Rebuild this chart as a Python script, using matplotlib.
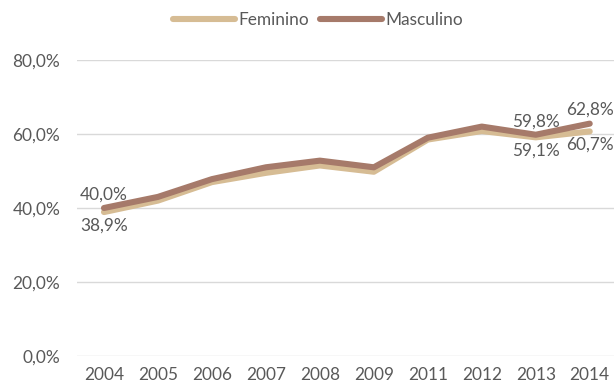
import matplotlib
matplotlib.use("Agg")
import matplotlib.pyplot as plt
from matplotlib.ticker import FuncFormatter

years = ["2004", "2005", "2006", "2007", "2008", "2009", "2011", "2012", "2013", "2014"]
feminino = [38.9, 42.0, 47.0, 49.5, 51.5, 49.8, 58.5, 60.8, 59.1, 60.7]
masculino = [40.0, 43.0, 47.8, 51.0, 52.8, 51.0, 59.0, 62.0, 59.8, 62.8]
y_ticks = [0, 20, 40, 60, 80]

# indices of points carrying a data label
labelled = [0, 8, 9]

col_fem = "#D6BC94"
col_masc = "#A67A6A"
txt = "#595959"
fs = 12.4

plt.rcParams["font.family"] = ["Lato", "DejaVu Sans"]

fig = plt.figure(figsize=(6.14, 3.88), dpi=100)
ax = fig.add_axes([77 / 614, 32 / 388, 537 / 614, 296 / 388])

x = list(range(len(years)))
ax.plot(x, feminino, color=col_fem, lw=4.4, solid_capstyle="round",
        solid_joinstyle="round", label="Feminino", zorder=3)
ax.plot(x, masculino, color=col_masc, lw=4.4, solid_capstyle="round",
        solid_joinstyle="round", label="Masculino", zorder=4)

def pct(v):
    return f"{v:.1f}%".replace(".", ",")

for i in labelled:
    ax.annotate(pct(masculino[i]), (x[i], masculino[i]), xytext=(0, 4),
                textcoords="offset points", ha="center", va="bottom",
                fontsize=fs, color=txt, zorder=5)
    ax.annotate(pct(feminino[i]), (x[i], feminino[i]), xytext=(0, -4),
                textcoords="offset points", ha="center", va="top",
                fontsize=fs, color=txt, zorder=5)

ax.set_xlim(-0.5, len(years) - 0.55)
ax.set_ylim(0, 80)
ax.set_yticks(y_ticks)
ax.yaxis.set_major_formatter(FuncFormatter(lambda v, p: pct(v)))
ax.set_xticks(x)
ax.set_xticklabels(years)
ax.grid(axis="y", color="#D9D9D9", lw=1.0)
ax.set_axisbelow(True)
for s in ax.spines.values():
    s.set_visible(False)
ax.tick_params(axis="both", length=0, colors=txt, labelsize=fs)
ax.tick_params(axis="y", pad=12)
ax.tick_params(axis="x", pad=8)

fig.legend(loc="center", bbox_to_anchor=(318 / 614, 1 - 20 / 388), ncol=2,
           frameon=False, fontsize=fs, labelcolor=txt, handlelength=3.6,
           handletextpad=0.2, columnspacing=0.6)

fig.savefig("out.png", dpi=100)
